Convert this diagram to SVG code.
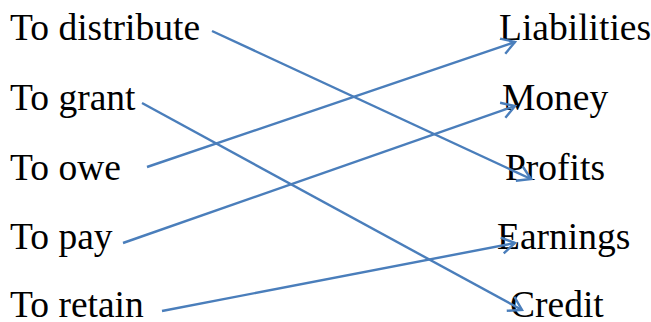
<svg xmlns="http://www.w3.org/2000/svg" width="651" height="322" viewBox="0 0 651 322">
<defs>
<style>
.t{font-family:"Liberation Serif","Times New Roman",serif;font-size:37.5px;fill:#000}
.c{stroke:#4A7EBB;stroke-width:2.4;fill:none;marker-end:url(#ah)}
</style>
<marker id="ah" markerUnits="userSpaceOnUse" markerWidth="20" markerHeight="20" viewBox="-15 -10 17 20" refX="0" refY="0" orient="auto">
<path d="M-13,-8 L0,0 L-13,8" fill="none" stroke="#4A7EBB" stroke-width="2.4"/>
</marker>
</defs>
<rect width="651" height="322" fill="#fff"/>
<g id="n-distribute"><text class="t" x="10" y="40">To distribute</text></g>
<g id="n-grant"><text class="t" x="10" y="110">To grant</text></g>
<g id="n-owe"><text class="t" x="10" y="180">To owe</text></g>
<g id="n-pay"><text class="t" x="10" y="249">To pay</text></g>
<g id="n-retain"><text class="t" x="10" y="317">To retain</text></g>
<g id="n-liabilities"><text class="t" x="499" y="40">Liabilities</text></g>
<g id="n-money"><text class="t" x="502" y="110">Money</text></g>
<g id="n-profits"><text class="t" x="505" y="180">Profits</text></g>
<g id="n-earnings"><text class="t" x="497" y="249">Earnings</text></g>
<g id="n-credit"><text class="t" x="510" y="317">Credit</text></g>
<g id="connectors">
<line class="c" x1="212" y1="31" x2="531" y2="179"/>
<line class="c" x1="142" y1="103" x2="522" y2="310"/>
<line class="c" x1="147" y1="167" x2="515" y2="42"/>
<line class="c" x1="123" y1="243" x2="515" y2="106"/>
<line class="c" x1="162" y1="311" x2="515" y2="243"/>
</g>
</svg>
